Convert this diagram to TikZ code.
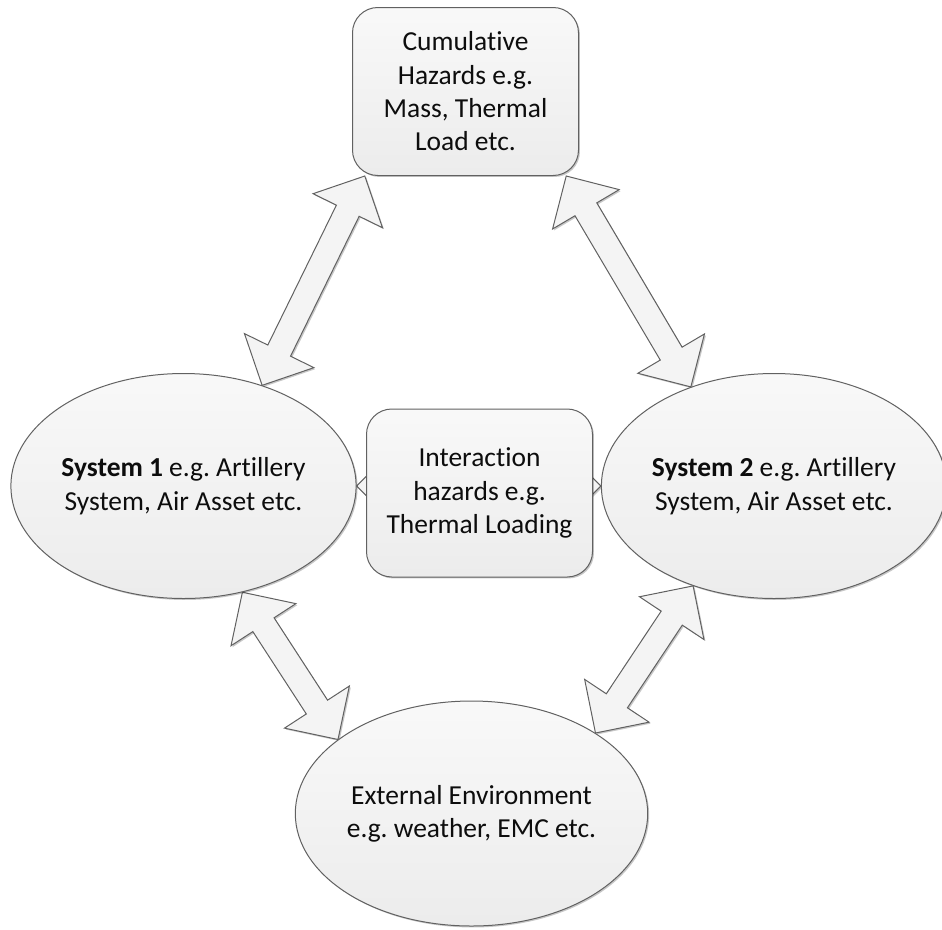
\documentclass[tikz,border=0pt]{standalone}
\usepackage{fontspec}
\setmainfont{Carlito}[Ligatures={NoCommon,NoContextual}]
\usetikzlibrary{shapes.geometric,calc,backgrounds,shadows}
\frenchspacing

\colorlet{Cedge}{black!62}
\colorlet{Ctop}{gray!5}
\colorlet{Cbot}{gray!15}
\colorlet{Carr}{gray!9}

\newcommand\hazfont{\fontsize{20.6}{25}\selectfont}
\newcommand\hlen{29pt}  % head length
\newcommand\hwid{29pt}  % half width of the head
\newcommand\swid{9.5pt} % half width of the shaft

% hollow double block arrow between two named points
\newcommand\dblarrow[2]{%
  \draw[blockarrow] (#1)
    -- ($(#1)!\hlen!(#2)!\hwid!90:(#2)$)
    -- ($(#1)!\hlen!(#2)!\swid!90:(#2)$)
    -- ($(#2)!\hlen!(#1)!\swid!-90:(#1)$)
    -- ($(#2)!\hlen!(#1)!\hwid!-90:(#1)$)
    -- (#2)
    -- ($(#2)!\hlen!(#1)!\hwid!90:(#1)$)
    -- ($(#2)!\hlen!(#1)!\swid!90:(#1)$)
    -- ($(#1)!\hlen!(#2)!\swid!-90:(#2)$)
    -- ($(#1)!\hlen!(#2)!\hwid!-90:(#2)$)
    -- cycle;}

\tikzset{
  softshadow/.style={drop shadow={shadow xshift=1.1pt, shadow yshift=-1.1pt,
    opacity=0.22, fill=black}},
  hazbox/.style={
    draw=Cedge, line width=0.75pt, rounded corners=19pt,
    top color=Ctop, bottom color=Cbot, softshadow,
    minimum width=169.5pt, minimum height=126pt,
    inner sep=0pt, align=center, font=\hazfont, text=black!95
  },
  sysell/.style={
    ellipse, draw=Cedge, line width=0.75pt,
    top color=Ctop, bottom color=Cbot, softshadow,
    minimum width=254.25pt, minimum height=168.75pt,
    inner sep=0pt, align=center, font=\hazfont, text=black!95
  },
  blockarrow/.style={
    draw=Cedge, line width=0.75pt, fill=Carr, line join=miter, softshadow
  }
}

\begin{document}
\begin{tikzpicture}[x=0.75pt, y=-0.75pt]
\useasboundingbox (0,0) rectangle (942,929);
%% BOXES
\node[hazbox] (cumul) at (465.5,91.5) {Cumulative\\Hazards e.g.\\Mass, Thermal\\Load etc.};
\node[hazbox] (inter) at (479.5,493) {Interaction\\hazards e.g.\\Thermal Loading};
%% ELLIPSES
\node[sysell] (sys1) at (183.5,486) {\textbf{System 1} e.g. Artillery\\System, Air Asset etc.};
\node[sysell] (sys2) at (774,486) {\textbf{System 2} e.g. Artillery\\System, Air Asset etc.};
\node[sysell] (env)  at (471.5,813.5) {External Environment\\e.g. weather, EMC etc.};
%% ARROWS
\begin{scope}[on background layer]
\dblarrow{sys1.52}{cumul.220}
\dblarrow{cumul.320}{sys2.130}
\dblarrow{sys1.299}{env.151}
\dblarrow{env.33}{sys2.231}
\dblarrow{sys1.east}{sys2.west}
\end{scope}
\end{tikzpicture}
\end{document}
